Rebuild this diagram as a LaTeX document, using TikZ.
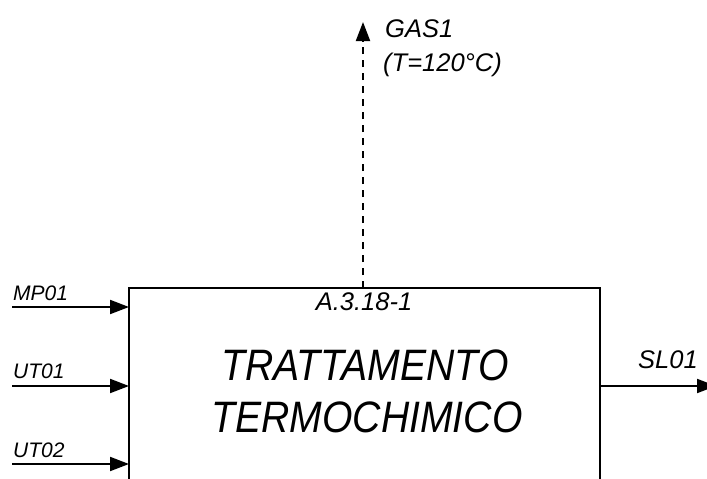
\documentclass[tikz,border=0pt]{standalone}
\usepackage{fontspec}
\setmainfont{Liberation Sans}
\usetikzlibrary{arrows.meta}
\begin{document}
\begin{tikzpicture}[x=1pt,y=-1pt,
  flow/.style={line width=2pt,-{Triangle[length=19pt,width=14pt]}},
  gasflow/.style={flow,dash pattern=on 7pt off 6pt},
  lbl/.style={inner sep=0pt,font=\itshape\fontsize{25.5}{30}\selectfont},
  lbls/.style={inner sep=0pt,font=\itshape\fontsize{21}{25}\selectfont},
  big/.style={inner sep=0pt,font=\itshape\fontsize{44}{52}\selectfont},
  block/.style={draw,line width=2pt,inner sep=0pt,outer sep=0pt}]
\useasboundingbox (0,0) rectangle (707,479);
\clip (0,0) rectangle (707,479);
\node[block,minimum width=471pt,minimum height=260pt,anchor=north west] (box) at (129,288) {};
\coordinate (mp) at (12,307);
\coordinate (ut1) at (12,386);
\coordinate (ut2) at (12,464);
\coordinate (sl) at (716,386);
\coordinate (gas) at (363,22);
\draw[flow] (mp) -- (box.west |- mp);
\draw[flow] (ut1) -- (box.west |- ut1);
\draw[flow] (ut2) -- (box.west |- ut2);
\draw[flow] (box.east |- sl) -- (sl);
\draw[gasflow] (box.north -| gas) -- (gas);
\node[lbls,anchor=base west] (lmp) at (13,300) {MP01};
\node[lbls,anchor=base west] (lut1) at (13,378) {UT01};
\node[lbls,anchor=base west] (lut2) at (13,457) {UT02};
\node[lbl,anchor=base west] (lgas) at (385,37) {GAS1};
\node[lbl,anchor=base west] (ltemp) at (383,71) {(T=120°C)};
\node[lbl,anchor=base] (lid) at (364,310) {A.3.18-1};
\node[lbl,anchor=base west] (lsl) at (638,368) {SL01};
\node[big,anchor=base] (t1) at (365,380) {\scalebox{0.89}[1]{TRATTAMENTO}};
\node[big,anchor=base] (t2) at (367,432) {\scalebox{0.89}[1]{TERMOCHIMICO}};
\end{tikzpicture}
\end{document}
